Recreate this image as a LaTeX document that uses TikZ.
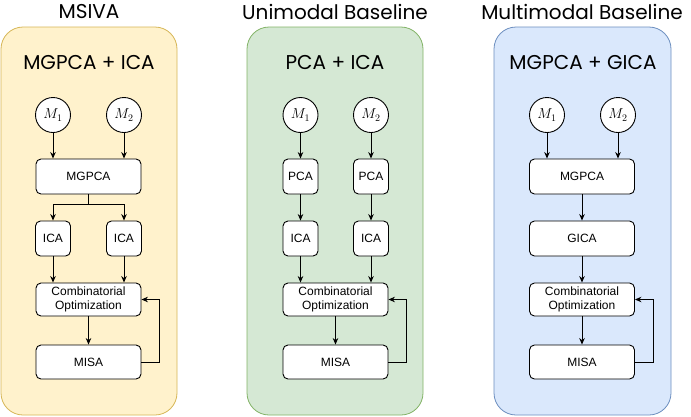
\documentclass[tikz,border=0pt]{standalone}
\usepackage{fontspec}
\setmainfont{Liberation Sans}
\newfontfamily\headfont{Poppins}
\usepackage{tikz}
\usetikzlibrary{arrows.meta,positioning}
\definecolor{msivafill}{HTML}{FFF2CC}
\definecolor{msivaline}{HTML}{D6B656}
\definecolor{unifill}{HTML}{D5E8D4}
\definecolor{uniline}{HTML}{82B366}
\definecolor{multifill}{HTML}{DAE8FC}
\definecolor{multiline}{HTML}{6C8EBF}

\begin{document}
\begin{tikzpicture}[x=1pt,y=-1pt,
    stage/.style={draw, line width=0.9pt, rounded corners=5pt, fill=white, minimum height=35pt,
      inner sep=0pt, align=center, font=\fontsize{12}{14}\selectfont},
    wide/.style={stage, minimum width=105pt},
    narrow/.style={stage, minimum width=35pt},
    modality/.style={draw, line width=0.9pt, circle, fill=white, minimum size=35pt, inner sep=0pt,
      font=\fontsize{14.5}{17}\selectfont},
    heading/.style={font=\headfont\fontsize{20}{24}\selectfont},
    flow/.style={-{Stealth[length=6.5pt,width=5.5pt]}, line width=0.9pt},
    panel/.style={rounded corners=22pt, line width=0.8pt}]
  \useasboundingbox (0,0) rectangle (691,416);

  % Panels
  \draw[panel, fill=msivafill, draw=msivaline] (1,27) rectangle (177,415);
  \draw[panel, fill=unifill, draw=uniline] (247,27) rectangle (423,415);
  \draw[panel, fill=multifill, draw=multiline] (494,27) rectangle (671,415);

  % MSIVA
  \node[heading] (title1) at (89,12) {MSIVA};
  \node[heading] (sub1) at (89,62) {MGPCA + ICA};
  \node[modality] (m11) at (53,115) {$M_1$};
  \node[modality] (m12) at (124,115) {$M_2$};
  \node[wide] (mgpca1) at (88.5,176.5) {MGPCA};
  \node[narrow] (ica11) at (53,238.5) {ICA};
  \node[narrow] (ica12) at (124,238.5) {ICA};
  \node[wide, minimum height=33pt] (co1) at (88.5,299.5) {Combinatorial\\Optimization};
  \node[wide, minimum height=34pt] (misa1) at (88.5,362) {MISA};
  \draw[flow] (m11.south) -- (m11.south |- mgpca1.north);
  \draw[flow] (m12.south) -- (m12.south |- mgpca1.north);
  \draw[flow] (mgpca1.south) -- ++(0,10) -| (ica11.north);
  \draw[flow] (mgpca1.south) -- ++(0,10) -| (ica12.north);
  \draw[flow] (ica11.south) -- (ica11.south |- co1.north);
  \draw[flow] (ica12.south) -- (ica12.south |- co1.north);
  \draw[flow] (co1.south) -- (misa1.north);
  \draw[flow] (misa1.east) -- ++(18,0) |- (co1.east);

  % Unimodal baseline
  \node[heading] (title2) at (335,12) {Unimodal Baseline};
  \node[heading] (sub2) at (335,62) {PCA + ICA};
  \node[modality] (m21) at (300.5,115) {$M_1$};
  \node[modality] (m22) at (371,115) {$M_2$};
  \node[narrow] (pca21) at (300.5,176.5) {PCA};
  \node[narrow] (pca22) at (371,176.5) {PCA};
  \node[narrow] (ica21) at (300.5,238.5) {ICA};
  \node[narrow] (ica22) at (371,238.5) {ICA};
  \node[wide, minimum height=33pt] (co2) at (335.5,299.5) {Combinatorial\\Optimization};
  \node[wide, minimum height=34pt] (misa2) at (335.5,362) {MISA};
  \draw[flow] (m21) -- (pca21);
  \draw[flow] (m22) -- (pca22);
  \draw[flow] (pca21) -- (ica21);
  \draw[flow] (pca22) -- (ica22);
  \draw[flow] (ica21.south) -- (ica21.south |- co2.north);
  \draw[flow] (ica22.south) -- (ica22.south |- co2.north);
  \draw[flow] (co2.south) -- (misa2.north);
  \draw[flow] (misa2.east) -- ++(18,0) |- (co2.east);

  % Multimodal baseline
  \node[heading] (title3) at (582,12) {Multimodal Baseline};
  \node[heading] (sub3) at (583,62) {MGPCA + GICA};
  \node[modality] (m31) at (547,115) {$M_1$};
  \node[modality] (m32) at (618,115) {$M_2$};
  \node[wide] (mgpca3) at (582,176.5) {MGPCA};
  \node[wide] (gica3) at (582,238.5) {GICA};
  \node[wide, minimum height=33pt] (co3) at (582,299.5) {Combinatorial\\Optimization};
  \node[wide, minimum height=34pt] (misa3) at (582,362) {MISA};
  \draw[flow] (m31.south) -- (m31.south |- mgpca3.north);
  \draw[flow] (m32.south) -- (m32.south |- mgpca3.north);
  \draw[flow] (mgpca3) -- (gica3);
  \draw[flow] (gica3) -- (co3);
  \draw[flow] (co3) -- (misa3);
  \draw[flow] (misa3.east) -- ++(18,0) |- (co3.east);
\end{tikzpicture}
\end{document}
